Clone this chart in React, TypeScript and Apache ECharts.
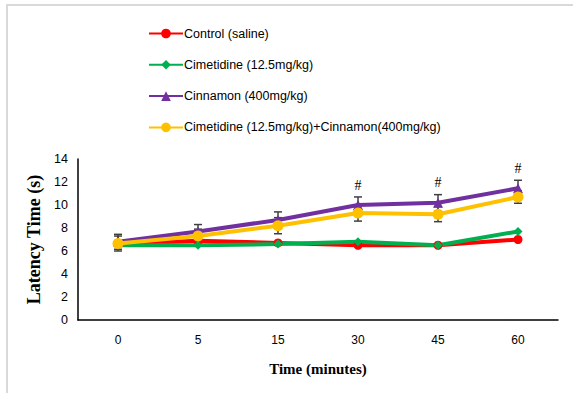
import React, { useEffect, useRef } from "react";
import * as echarts from "echarts";

const timePoints = ["0", "5", "15", "30", "45", "60"];
const yTicks = [0, 2, 4, 6, 8, 10, 12, 14];

const seriesNames = [
  "Control (saline)",
  "Cimetidine (12.5mg/kg)",
  "Cinnamon (400mg/kg)",
  "Cimetidine (12.5mg/kg)+Cinnamon(400mg/kg)",
];
const controlValues = [6.6, 6.9, 6.7, 6.5, 6.5, 7.0];
const cimetidineValues = [6.5, 6.5, 6.6, 6.8, 6.5, 7.7];
const cinnamonValues = [6.8, 7.7, 8.7, 10.0, 10.2, 11.45];
const comboValues = [6.65, 7.3, 8.2, 9.3, 9.2, 10.7];
const cinnamonErrors = [0.65, 0.6, 0.7, 0.7, 0.7, 0.7];
const comboErrors = [0.65, 0.6, 0.7, 0.7, 0.65, 0.55];
const significance = ["", "", "", "#", "#", "#"];

const colors = ["#FF0000", "#00B050", "#7030A0", "#FFC000"];
const symbols = ["circle", "diamond", "triangle", "circle"];
const symbolSizes = [9, 9, 10, 11];

function errorData(values: number[], errs: number[]) {
  return values.map((v, i) => [i, v - errs[i], v + errs[i]]);
}

export default function App() {
  const ref = useRef<HTMLDivElement>(null);
  useEffect(() => {
    document.body.style.margin = "0";
    const chart = echarts.init(ref.current!, null, { renderer: "svg" });
    const allValues = [controlValues, cimetidineValues, cinnamonValues, comboValues];

    const renderErr = (params: any, api: any) => {
      const x = api.value(0);
      const lo = api.coord([x, api.value(1)]);
      const hi = api.coord([x, api.value(2)]);
      const cap = 4;
      const style = { stroke: "#404040", lineWidth: 1.5 };
      return {
        type: "group",
        children: [
          { type: "line", shape: { x1: lo[0], y1: lo[1], x2: hi[0], y2: hi[1] }, style },
          { type: "line", shape: { x1: lo[0] - cap, y1: lo[1], x2: lo[0] + cap, y2: lo[1] }, style },
          { type: "line", shape: { x1: hi[0] - cap, y1: hi[1], x2: hi[0] + cap, y2: hi[1] }, style },
        ],
      };
    };

    const lineSeries = seriesNames.map((name, k) => ({
      name,
      type: "line",
      z: 3,
      data: allValues[k].map((v, i) =>
        k === 2 && significance[i]
          ? {
              value: v,
              label: {
                show: true,
                position: "top",
                distance: 8,
                formatter: significance[i],
                color: "#000",
                fontSize: 14,
                fontFamily: "Liberation Serif",
              },
            }
          : v
      ),
      symbol: symbols[k],
      symbolSize: symbolSizes[k],
      lineStyle: { color: colors[k], width: 4 },
      itemStyle: { color: colors[k] },
    }));

    chart.setOption({
      animation: false,
      backgroundColor: "#fff",
      graphic: [
        { type: "line", shape: { x1: 6, y1: 5, x2: 573, y2: 5 }, style: { stroke: "#D9D9D9", lineWidth: 2 } },
        { type: "line", shape: { x1: 7, y1: 4, x2: 7, y2: 393 }, style: { stroke: "#D9D9D9", lineWidth: 2 } },
      ],
      legend: {
        orient: "vertical",
        left: 148,
        top: 27,
        padding: 0,
        itemWidth: 34,
        itemHeight: 12,
        itemGap: 18.3,
        data: seriesNames,
        textStyle: { fontFamily: "Liberation Sans", fontSize: 12.5, color: "#000", padding: [0, 0, 0, -4] },
      },
      grid: { left: 78, right: 15, top: 159, bottom: 73 },
      xAxis: {
        type: "category",
        data: timePoints,
        boundaryGap: true,
        axisLine: { lineStyle: { color: "#000", width: 1.5 } },
        axisTick: { show: false },
        axisLabel: { color: "#000", fontSize: 12, fontFamily: "Liberation Sans", margin: 14 },
        name: "Time (minutes)",
        nameLocation: "middle",
        nameGap: 41,
        nameTextStyle: { fontFamily: "Liberation Serif", fontWeight: "bold", fontSize: 15, color: "#000" },
      },
      yAxis: {
        type: "value",
        min: yTicks[0],
        max: yTicks[yTicks.length - 1],
        interval: 2,
        axisLine: { show: true, lineStyle: { color: "#000", width: 1.5 } },
        axisTick: { show: false },
        splitLine: { show: false },
        axisLabel: { color: "#000", fontSize: 12.5, fontFamily: "Liberation Sans", margin: 10 },
        name: "Latency Time (s)",
        nameLocation: "middle",
        nameGap: 33,
        nameTextStyle: { fontFamily: "Liberation Serif", fontWeight: "bold", fontSize: 18, color: "#000" },
      },
      series: [
        {
          type: "custom",
          name: "errCinnamon",
          z: 2,
          renderItem: renderErr,
          encode: { x: 0, y: [1, 2] },
          data: errorData(cinnamonValues, cinnamonErrors),
          silent: true,
        },
        {
          type: "custom",
          name: "errCombo",
          z: 2,
          renderItem: renderErr,
          encode: { x: 0, y: [1, 2] },
          data: errorData(comboValues, comboErrors),
          silent: true,
        },
        ...lineSeries,
      ],
    });
    return () => chart.dispose();
  }, []);
  return <div ref={ref} style={{ width: 573, height: 393 }} />;
}
